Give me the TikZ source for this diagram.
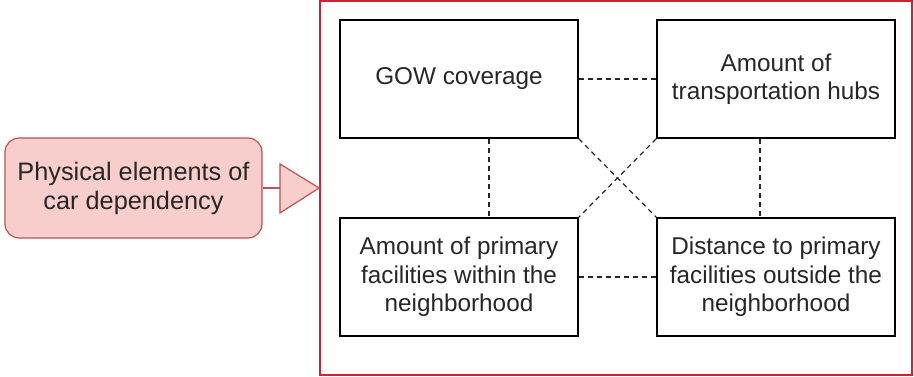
\documentclass[tikz,border=0pt]{standalone}
\usepackage{fontspec}
\setmainfont{Liberation Sans}
\definecolor{pinkfill}{RGB}{248,206,204}
\definecolor{pinkline}{RGB}{184,84,80}
\definecolor{framered}{RGB}{205,35,50}
\begin{document}
\begin{tikzpicture}[x=1pt,y=-1pt,
  txt/.style={font=\fontsize{24.3}{28.5}\selectfont, align=center, text=black!85},
  factor/.style={draw=black, line width=1.6pt, minimum width=238pt, minimum height=118pt, inner sep=0pt, txt},
  link/.style={draw=black!85, line width=1.2pt, dash pattern=on 5pt off 4pt}]
\useasboundingbox (0,0) rectangle (914,377);
\node[draw=framered, line width=1.8pt, minimum width=592pt, minimum height=374pt, inner sep=0pt] (frame) at (616,188) {};
\node[factor] (gow) at (459,79) {GOW coverage};
\node[factor] (hubs) at (776,79) {Amount of\\transportation hubs};
\node[factor] (within) at (459,277) {Amount of primary\\facilities within the\\neighborhood};
\node[factor] (dist) at (776,277) {Distance to primary\\facilities outside the\\neighborhood};
\node[draw=pinkline, fill=pinkfill, line width=1.2pt, rounded corners=14pt, minimum width=257pt, minimum height=100pt, inner sep=0pt, txt, font=\fontsize{25.3}{29}\selectfont] (phys) at (133.5,188) {Physical elements of\\car dependency};
\coordinate (tri) at (280,188);
\draw[pinkline, line width=1.2pt] (phys.east) -- (tri);
\draw[pinkline, fill=pinkfill, line width=1.2pt] (280,164) -- (frame.west) -- (280,213) -- cycle;
\draw[link] (gow.east) -- (hubs.west);
\draw[link] (within.east) -- (dist.west);
\draw[link] (gow.south -| 489,0) -- (within.north -| 489,0);
\draw[link] (hubs.south -| 760,0) -- (dist.north -| 760,0);
\draw[link] (gow.south east) -- (dist.north west);
\draw[link] (hubs.south west) -- (within.north east);
\end{tikzpicture}
\end{document}
